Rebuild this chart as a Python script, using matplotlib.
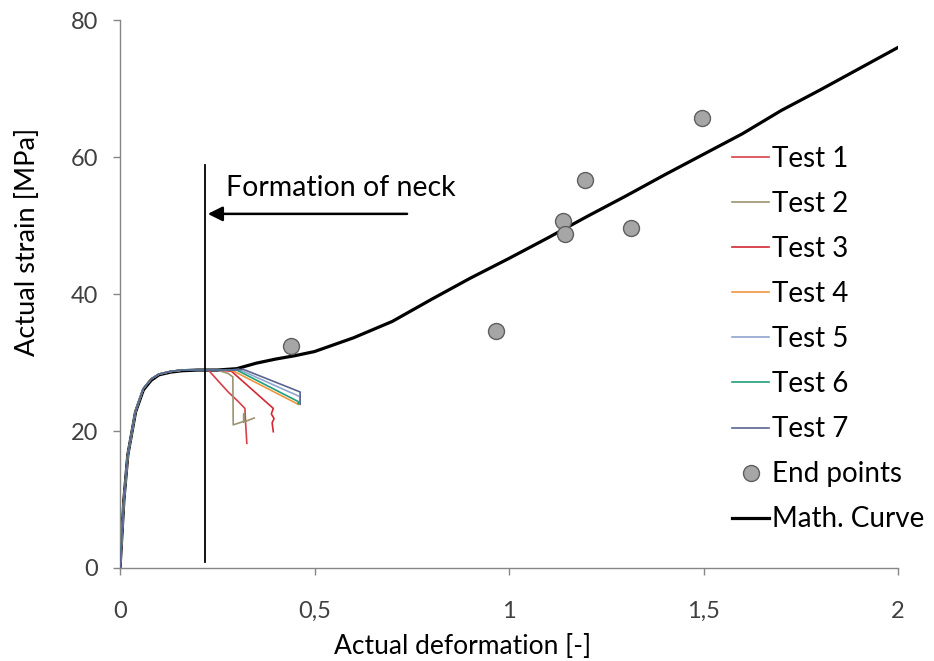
import numpy as np
import matplotlib
matplotlib.use("Agg")
import matplotlib.pyplot as plt

plt.rcParams['font.family'] = ['Lato', 'DejaVu Sans']

# Math. curve
curve_x = [0, 0.01, 0.02, 0.04, 0.06, 0.08, 0.10, 0.13, 0.16, 0.20, 0.25, 0.30,
           0.35, 0.40, 0.45, 0.50, 0.60, 0.70, 0.80, 0.90, 1.00, 1.10, 1.20,
           1.30, 1.40, 1.50, 1.60, 1.70, 1.80, 1.90, 2.00]
curve_y = [0, 10.0, 16.5, 22.8, 26.0, 27.4, 28.2, 28.6, 28.8, 28.9, 28.9, 29.1,
           29.9, 30.5, 31.0, 31.6, 33.6, 36.0, 39.2, 42.3, 45.2, 48.2, 51.3,
           54.3, 57.4, 60.4, 63.4, 66.8, 69.8, 72.9, 76.0]

# end points of the tests
end_x = [0.44, 0.967, 1.139, 1.144, 1.195, 1.314, 1.496]
end_y = [32.4, 34.6, 50.7, 48.8, 56.6, 49.6, 65.7]

# common loading part of the tests
load_x = [0, 0.01, 0.02, 0.04, 0.06, 0.08, 0.10, 0.13, 0.16, 0.20]
load_y = [0, 10.0, 16.5, 22.9, 26.2, 27.6, 28.3, 28.7, 28.9, 28.9]

test_names = ['Test 1', 'Test 2', 'Test 3', 'Test 4', 'Test 5', 'Test 6', 'Test 7']
test_colors = ['#d8404a', '#9a9470', '#d42834', '#f0953e', '#8fa6d0', '#1fa07a', '#5a6590']
tail_x = [
    [0.227, 0.278, 0.304, 0.321, 0.323, 0.326],
    [0.25, 0.278, 0.290, 0.291, 0.318, 0.318, 0.318, 0.345],
    [0.26, 0.287, 0.394, 0.389, 0.396, 0.391, 0.394],
    [0.27, 0.290, 0.458],
    [0.28, 0.305, 0.463, 0.463],
    [0.28, 0.300, 0.458, 0.458],
    [0.29, 0.317, 0.463, 0.463],
]
tail_y = [
    [28.9, 25.7, 24.3, 23.3, 21.0, 18.2],
    [28.9, 28.4, 27.9, 20.9, 21.4, 22.5, 21.3, 21.9],
    [28.9, 28.7, 23.3, 22.5, 21.8, 21.2, 19.9],
    [28.9, 28.8, 23.9],
    [28.9, 29.0, 25.0, 24.0],
    [28.9, 28.9, 24.3, 24.0],
    [28.9, 29.0, 25.7, 23.9],
]

neck_x = 0.2185

fig = plt.figure(figsize=(9.34, 6.61), dpi=100)
ax = fig.add_axes([0.1285, 0.1407, 0.833, 0.829])

handles = []
for name, col, tx, ty in zip(test_names, test_colors, tail_x, tail_y):
    h, = ax.plot(load_x + tx, load_y + ty, color=col, lw=1.2, zorder=3, label=name)
    handles.append(h)

h_end, = ax.plot(end_x, end_y, 'o', ms=11.5, mfc='#a6a6a6', mec='#5f5f5f', mew=1.0,
                 zorder=4, label='End points')
h_curve, = ax.plot(curve_x, curve_y, color='black', lw=2.3, zorder=2, label='Math. Curve')
handles += [h_end, h_curve]

# formation of neck
ax.plot([neck_x, neck_x], [0.9, 58.8], color='black', lw=1.3, zorder=5)
ax.annotate('', xy=(neck_x, 51.7), xytext=(0.745, 51.7),
            arrowprops=dict(arrowstyle='-|>', color='black', lw=1.8, mutation_scale=22))
ax.text(0.272, 55.5, 'Formation of neck', fontsize=20.5, va='center', ha='left')

ax.set_xlim(0, 2)
ax.set_ylim(0, 80)
ax.set_xticks([0, 0.5, 1, 1.5, 2])
ax.set_xticklabels(['0', '0,5', '1', '1,5', '2'])
ax.set_yticks([0, 20, 40, 60, 80])
for s in ['top', 'right']:
    ax.spines[s].set_visible(False)
for s in ['left', 'bottom']:
    ax.spines[s].set_color('#868686')
    ax.spines[s].set_linewidth(1.0)
ax.tick_params(axis='both', colors='#868686', labelcolor='#404040', labelsize=17,
               direction='out', length=5, width=1)
ax.tick_params(axis='x', pad=19)
ax.tick_params(axis='y', pad=11)

ax.set_xlabel('Actual deformation [-]', fontsize=19)
ax.xaxis.set_label_coords(0.44, -0.121)
ax.set_ylabel('Actual strain [MPa]', fontsize=19.5)
ax.yaxis.set_label_coords(-0.103, 0.595)

ax.legend(handles=handles, loc='upper left', bbox_to_anchor=(0.787, 0.77),
          frameon=False, fontsize=20, handlelength=1.33, handletextpad=0.1,
          labelspacing=0.685, borderpad=0, borderaxespad=0)

fig.savefig('out.png', dpi=100)
